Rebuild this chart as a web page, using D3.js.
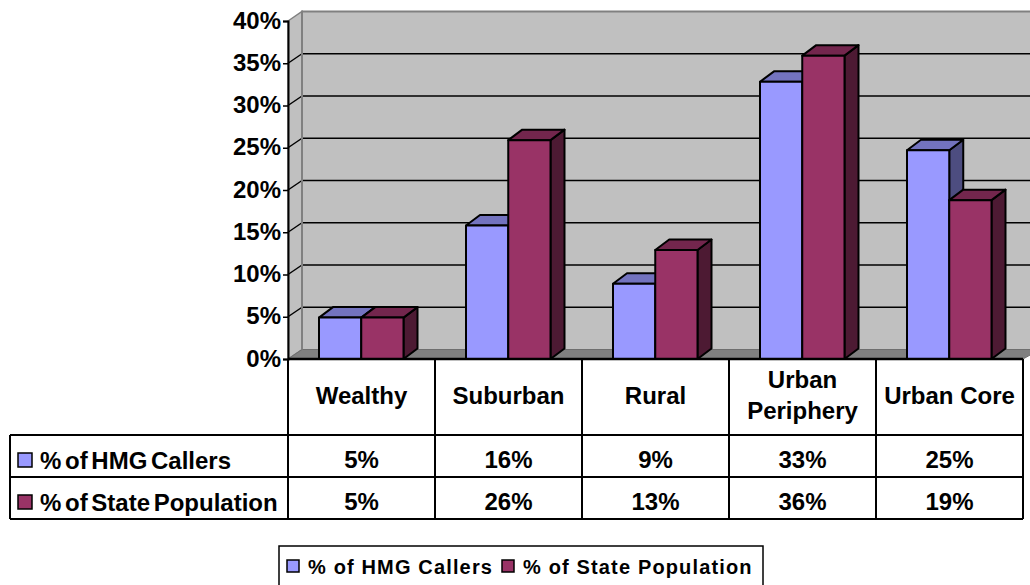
<!DOCTYPE html>
<html>
<head>
<meta charset="utf-8">
<script src="https://cdn.jsdelivr.net/npm/d3@7"></script>
<style>
	html, body { margin: 0; padding: 0; background: #fff; }
	svg { display: block; }
	text { font-family: "Liberation Sans", Arial, sans-serif; font-weight: bold; fill: #000; }
</style>
</head>
<body>
<div id="chart"></div>
<script>
// Values
const categories = ["Wealthy", "Suburban", "Rural", "Urban Periphery", "Urban Core"]
const seriesNames = ["% of HMG Callers", "% of State Population"]
const hmgValues = [4.9, 15.8, 8.9, 32.8, 24.7]
const stateValues = [4.9, 25.9, 12.9, 35.9, 18.8]
const hmgLabels = ["5%", "16%", "9%", "33%", "25%"]
const stateLabels = ["5%", "26%", "13%", "36%", "19%"]
const yTicks = [0, 5, 10, 15, 20, 25, 30, 35, 40]

const width = 1030, height = 585
const depth = { x: 14, y: -9.5 }
const barDepth = { x: 14, y: -10.5 }
const colours = [
	{ front: "#9999ff", top: "#7373bf", side: "#4d4d80" },
	{ front: "#993366", top: "#73264d", side: "#4d1a33" },
]

const svg = d3.select("#chart").append("svg")
	.attr("width", width)
	.attr("height", height)

const x = d3.scaleBand().domain(categories).range([288, 1023])
const inner = d3.scaleBand().domain(seriesNames).range([31, 115.5])
const y = d3.scaleLinear().domain([0, 40]).range([359, 21])

const line = d3.line()

// Walls and floor
const plot = svg.append("g")
plot.append("rect")
	.attr("x", x.range()[0] + depth.x)
	.attr("y", y(40) + depth.y)
	.attr("width", width)
	.attr("height", y(0) - y(40))
	.attr("fill", "#c0c0c0")
plot.append("path")
	.attr("d", line([
		[x.range()[0], y(40)],
		[x.range()[0] + depth.x, y(40) + depth.y],
		[x.range()[0] + depth.x, y(0) + depth.y],
		[x.range()[0], y(0)],
	]) + "Z")
	.attr("fill", "#c0c0c0")
	.attr("stroke", "#808080")
	.attr("stroke-width", 1.5)
plot.append("path")
	.attr("d", line([
		[x.range()[0], y(0)],
		[x.range()[0] + depth.x, y(0) + depth.y],
		[width + 10, y(0) + depth.y],
		[x.range()[1], y(0)],
	]) + "Z")
	.attr("fill", "#808080")
	.attr("stroke", "#6e6e6e")
	.attr("stroke-width", 1)

// Gridlines on the back wall, with the step across the side wall
plot.selectAll("line.grid")
	.data(yTicks.filter(t => t > 0 && t < 40))
	.join("line")
	.attr("class", "grid")
	.attr("x1", x.range()[0] + depth.x)
	.attr("x2", width)
	.attr("y1", d => y(d) + depth.y)
	.attr("y2", d => y(d) + depth.y)
	.attr("stroke", "#000")
	.attr("stroke-width", 1.5)
plot.selectAll("line.step")
	.data(yTicks.filter(t => t > 0 && t < 40))
	.join("line")
	.attr("class", "step")
	.attr("x1", x.range()[0])
	.attr("x2", x.range()[0] + depth.x)
	.attr("y1", d => y(d))
	.attr("y2", d => y(d) + depth.y)
	.attr("stroke", "#000")
	.attr("stroke-width", 1.5)

// Back wall outline
plot.append("path")
	.attr("d", line([
		[x.range()[0] + depth.x, y(0) + depth.y],
		[x.range()[0] + depth.x, y(40) + depth.y],
		[width, y(40) + depth.y],
	]))
	.attr("fill", "none")
	.attr("stroke", "#808080")
	.attr("stroke-width", 2)

// Bars, second series on top of the first in each group
const barData = categories.flatMap((c, i) => [
	{ category: c, series: seriesNames[0], value: hmgValues[i], colour: colours[0] },
	{ category: c, series: seriesNames[1], value: stateValues[i], colour: colours[1] },
])

const bars = svg.append("g").selectAll("g.bar")
	.data(barData)
	.join("g")
	.attr("class", "bar")
	.attr("stroke", "#000")
	.attr("stroke-width", 2)
	.attr("stroke-linejoin", "round")

const barLeft = d => x(d.category) + inner(d.series)
const barRight = d => barLeft(d) + inner.bandwidth()

bars.append("path")
	.attr("d", d => line([
		[barRight(d), y(d.value)],
		[barRight(d) + barDepth.x, y(d.value) + barDepth.y],
		[barRight(d) + barDepth.x, y(0) + barDepth.y],
		[barRight(d), y(0)],
	]) + "Z")
	.attr("fill", d => d.colour.side)
bars.append("path")
	.attr("d", d => line([
		[barLeft(d), y(d.value)],
		[barLeft(d) + barDepth.x, y(d.value) + barDepth.y],
		[barRight(d) + barDepth.x, y(d.value) + barDepth.y],
		[barRight(d), y(d.value)],
	]) + "Z")
	.attr("fill", d => d.colour.top)
bars.append("rect")
	.attr("x", barLeft)
	.attr("y", d => y(d.value))
	.attr("width", inner.bandwidth())
	.attr("height", d => y(0) - y(d.value))
	.attr("fill", d => d.colour.front)

// Value axis
const axis = svg.append("g")
	.attr("transform", `translate(${x.range()[0]},0)`)
	.call(d3.axisLeft(y).tickValues(yTicks).tickFormat(d => d + "%").tickSize(5).tickPadding(2))
axis.selectAll("text").style("font-size", "24px").attr("dy", "0.3em")
axis.selectAll("line").attr("stroke", "#000").attr("stroke-width", 1.5)
axis.select(".domain").attr("stroke", "#000").attr("stroke-width", 2)

// Data table
const tableLeft = 10
const rowLines = [359, 435, 477, 519]
const table = svg.append("g").attr("stroke", "#000").attr("stroke-width", 2)

table.append("line")
	.attr("x1", x.range()[0]).attr("x2", x.range()[1])
	.attr("y1", rowLines[0]).attr("y2", rowLines[0])
	.attr("stroke-width", 2.5)
table.selectAll("line.row")
	.data(rowLines.slice(1))
	.join("line")
	.attr("class", "row")
	.attr("x1", tableLeft).attr("x2", x.range()[1])
	.attr("y1", d => d).attr("y2", d => d)
table.selectAll("line.col")
	.data(categories.map(c => x(c)).concat(x.range()[1]))
	.join("line")
	.attr("class", "col")
	.attr("x1", d => d).attr("x2", d => d)
	.attr("y1", rowLines[0]).attr("y2", rowLines[3])
table.append("line")
	.attr("x1", tableLeft).attr("x2", tableLeft)
	.attr("y1", rowLines[1]).attr("y2", rowLines[3])

const fontSize = 24

const catLabels = svg.append("g").selectAll("text")
	.data(categories)
	.join("text")
	.attr("text-anchor", "middle")
	.style("font-size", fontSize + "px")
catLabels.each(function(d) {
	// Only "Urban Periphery" wraps in the header cell
	let lines = d === "Urban Periphery" ? d.split(" ") : [d]
	let cx = x(d) + x.bandwidth() / 2
	let top = lines.length === 1 ? 404 : 388
	d3.select(this).selectAll("tspan")
		.data(lines)
		.join("tspan")
		.attr("x", cx)
		.attr("y", (_, i) => top + i * 31)
		.text(t => t)
})

;[hmgLabels, stateLabels].forEach((labels, r) => {
	svg.append("g").selectAll("text")
		.data(labels)
		.join("text")
		.attr("x", (_, i) => x(categories[i]) + x.bandwidth() / 2)
		.attr("y", rowLines[r + 1] + 33)
		.attr("text-anchor", "middle")
		.style("font-size", fontSize + "px")
		.text(d => d)
})

const rowHead = svg.append("g").selectAll("g")
	.data(seriesNames)
	.join("g")
rowHead.append("rect")
	.attr("x", 18)
	.attr("y", (_, i) => rowLines[i + 1] + 18)
	.attr("width", 14)
	.attr("height", 14)
	.attr("fill", (_, i) => colours[i].front)
	.attr("stroke", "#000")
	.attr("stroke-width", 1.5)
rowHead.append("text")
	.attr("x", 40)
	.attr("y", (_, i) => rowLines[i + 1] + 34)
	.style("font-size", fontSize + "px")
	.style("word-spacing", "-3px")
	.text(d => d)

// Legend box, runs off the bottom of the picture
const legend = svg.append("g")
legend.append("rect")
	.attr("x", 279)
	.attr("y", 546)
	.attr("width", 484)
	.attr("height", 60)
	.attr("fill", "#fff")
	.attr("stroke", "#000")
	.attr("stroke-width", 1.5)
const legendX = [287, 502]
const legendItem = legend.selectAll("g.item")
	.data(seriesNames)
	.join("g")
	.attr("class", "item")
	.attr("transform", (_, i) => `translate(${legendX[i]},0)`)
legendItem.append("rect")
	.attr("y", 560)
	.attr("width", 12)
	.attr("height", 12)
	.attr("fill", (_, i) => colours[i].front)
	.attr("stroke", "#000")
	.attr("stroke-width", 1.5)
legendItem.append("text")
	.attr("x", 21)
	.attr("y", 574)
	.style("font-size", "20px")
	.style("letter-spacing", "1.15px")
	.text(d => d)
</script>
</body>
</html>
